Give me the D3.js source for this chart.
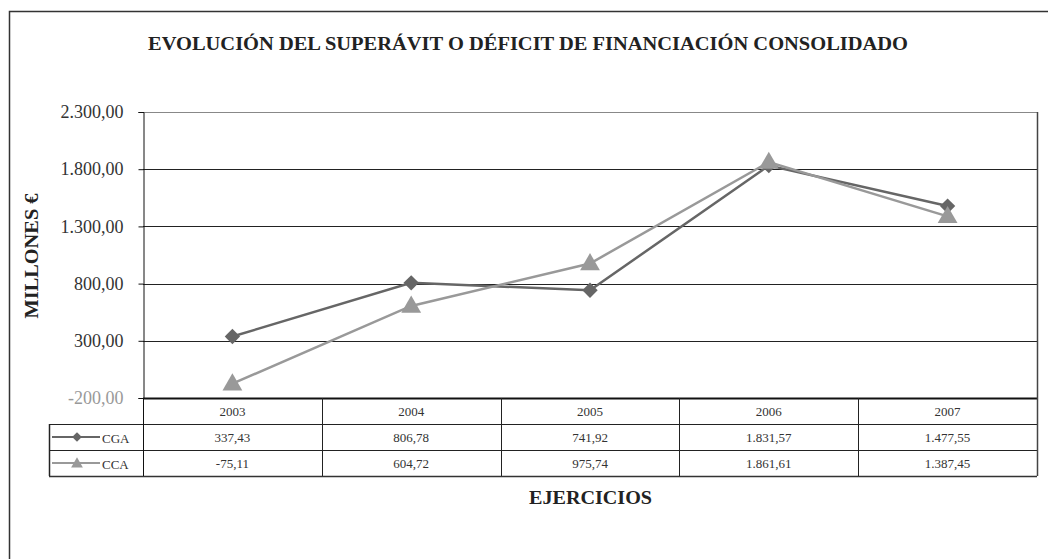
<!DOCTYPE html>
<html lang="es">
<head>
<meta charset="utf-8">
<title>Superávit o déficit de financiación</title>
<script src="https://cdn.jsdelivr.net/npm/d3@7"></script>
<style>
  body { margin: 0; background: #fff; }
  svg text { font-family: "Liberation Serif", "DejaVu Serif", serif; }
  .title, .ylab, .xlab { font-weight: bold; fill: #222; }
  .cell text { font-size: 13px; fill: #333; }
</style>
</head>
<body>
<script>
var years = ["2003", "2004", "2005", "2006", "2007"];
var seriesNames = ["CGA", "CCA"];
var cga = [337.43, 806.78, 741.92, 1831.57, 1477.55];
var cca = [-75.11, 604.72, 975.74, 1861.61, 1387.45];
var yTicks = [-200, 300, 800, 1300, 1800, 2300];

var colors = {CGA: "#666666", CCA: "#999999"};
var values = {CGA: cga, CCA: cca};

var W = 1048, H = 559;
var plot = {left: 143, right: 1037, top: 112, bottom: 398};
var rowH = 26, legendLeft = 49;

var es = d3.formatLocale({decimal: ",", thousands: ".", grouping: [3], currency: ["", " €"], minus: "-"});
var fmt = es.format(",.2f");

var svg = d3.select("body").append("svg")
  .attr("width", W).attr("height", H);

// outer frame (open at right/bottom edges)
svg.append("path")
  .attr("d", "M9.5," + H + "V11.5H" + W)
  .attr("fill", "none").attr("stroke", "#333").attr("stroke-width", 1.5);

svg.append("text").attr("class", "title")
  .attr("x", 528).attr("y", 50)
  .attr("text-anchor", "middle").attr("font-size", 18)
  .attr("textLength", 760).attr("lengthAdjust", "spacingAndGlyphs")
  .text("EVOLUCIÓN DEL SUPERÁVIT O DÉFICIT DE FINANCIACIÓN CONSOLIDADO");

var x = d3.scaleBand().domain(years).range([plot.left, plot.right]);
var y = d3.scaleLinear().domain([-200, 2300]).range([plot.bottom, plot.top]);

// gridlines
svg.append("g").selectAll("line")
  .data(yTicks.slice(1))
  .join("line")
  .attr("x1", plot.left).attr("x2", plot.right)
  .attr("y1", function(d) { return Math.round(y(d)) + 0.5; })
  .attr("y2", function(d) { return Math.round(y(d)) + 0.5; })
  .attr("stroke", function(d) { return d == 2300 ? "#888" : "#222"; })
  .attr("stroke-width", 1);

// y axis
var yAxis = svg.append("g")
  .attr("transform", "translate(" + (plot.left + 0.5) + ",0)")
  .call(d3.axisLeft(y).tickValues(yTicks).tickFormat(fmt).tickSize(5).tickPadding(15));
yAxis.select(".domain").attr("stroke", "#111");
yAxis.selectAll(".tick line").attr("stroke", "#111");
yAxis.selectAll(".tick text")
  .attr("font-size", 18)
  .attr("fill", function(d) { return d < 0 ? "#999" : "#333"; })
  .style("font-family", "'Liberation Serif', serif");

svg.append("text").attr("class", "ylab")
  .attr("transform", "translate(38," + 256 + ") rotate(-90)")
  .attr("text-anchor", "middle").attr("font-size", 18)
  .attr("textLength", 125).attr("lengthAdjust", "spacingAndGlyphs")
  .text("MILLONES €");

// data table
var tableBottom = plot.bottom + rowH * 3;
var tbl = svg.append("g").attr("class", "cell");

// horizontal table lines
tbl.append("line")
  .attr("x1", plot.left).attr("x2", plot.right)
  .attr("y1", plot.bottom + 0.5).attr("y2", plot.bottom + 0.5)
  .attr("stroke", "#111").attr("stroke-width", 2);
[1, 2, 3].forEach(function(r) {
  tbl.append("line")
    .attr("x1", legendLeft).attr("x2", plot.right)
    .attr("y1", plot.bottom + rowH * r + 0.5).attr("y2", plot.bottom + rowH * r + 0.5)
    .attr("stroke", r == 3 ? "#333" : "#222").attr("stroke-width", r == 3 ? 1.5 : 1);
});
// vertical table lines
tbl.selectAll(".vline")
  .data(years.slice(1))
  .join("line")
  .attr("x1", function(d) { return Math.round(x(d)) + 0.5; })
  .attr("x2", function(d) { return Math.round(x(d)) + 0.5; })
  .attr("y1", plot.bottom).attr("y2", tableBottom)
  .attr("stroke", "#222");
tbl.append("line")
  .attr("x1", plot.left + 0.5).attr("x2", plot.left + 0.5)
  .attr("y1", plot.bottom).attr("y2", tableBottom).attr("stroke", "#111");
tbl.append("line")
  .attr("x1", plot.right + 0.5).attr("x2", plot.right + 0.5)
  .attr("y1", plot.top).attr("y2", tableBottom).attr("stroke", "#444").attr("stroke-width", 1.5);
tbl.append("line")
  .attr("x1", legendLeft + 0.5).attr("x2", legendLeft + 0.5)
  .attr("y1", plot.bottom + rowH).attr("y2", tableBottom).attr("stroke", "#222").attr("stroke-width", 1.5);

// header years
tbl.selectAll(".yr")
  .data(years)
  .join("text")
  .attr("x", function(d) { return x(d) + x.bandwidth() / 2; })
  .attr("y", plot.bottom + rowH / 2 + 4.5)
  .attr("text-anchor", "middle")
  .text(function(d) { return d; });

var diamond = d3.symbol().type(d3.symbolDiamond2);
var triangle = d3.symbol().type(d3.symbolTriangle);
function markerPath(name, size) {
  return name == "CGA" ? diamond.size(size)() : triangle.size(size)();
}

seriesNames.forEach(function(name, i) {
  var rowY = plot.bottom + rowH * (i + 1);
  var vals = values[name];
  tbl.selectAll(".v" + name)
    .data(vals)
    .join("text")
    .attr("x", function(d, j) { return x(years[j]) + x.bandwidth() / 2; })
    .attr("y", rowY + rowH / 2 + 4.5)
    .attr("text-anchor", "middle")
    .text(function(d) { return fmt(d); });

  // legend key
  tbl.append("line")
    .attr("x1", legendLeft + 3).attr("x2", legendLeft + 51)
    .attr("y1", rowY + rowH / 2).attr("y2", rowY + rowH / 2)
    .attr("stroke", colors[name]).attr("stroke-width", 2);
  tbl.append("path")
    .attr("transform", "translate(" + (legendLeft + 28) + "," + (rowY + rowH / 2 + (name == "CCA" ? 1 : 0)) + ")")
    .attr("d", markerPath(name, 60))
    .attr("fill", colors[name]);
  tbl.append("text")
    .attr("x", legendLeft + 53).attr("y", rowY + rowH / 2 + 5.5)
    .attr("font-size", 16)
    .text(name);
});

// series lines and markers
var line = d3.line()
  .x(function(d, j) { return x(years[j]) + x.bandwidth() / 2; })
  .y(function(d) { return y(d); });

["CGA", "CCA"].forEach(function(name) {
  var g = svg.append("g");
  g.append("path")
    .datum(values[name])
    .attr("d", line)
    .attr("fill", "none")
    .attr("stroke", colors[name])
    .attr("stroke-width", 2.5);
  g.selectAll("path.m")
    .data(values[name])
    .join("path")
    .attr("class", "m")
    .attr("transform", function(d, j) {
      return "translate(" + (x(years[j]) + x.bandwidth() / 2) + "," + (y(d) + (name == "CCA" ? 1 : 0)) + ")";
    })
    .attr("d", markerPath(name, name == "CGA" ? 150 : 170))
    .attr("fill", colors[name]);
});

svg.append("text").attr("class", "xlab")
  .attr("x", (plot.left + plot.right) / 2 + 0.5).attr("y", 504)
  .attr("text-anchor", "middle").attr("font-size", 18)
  .attr("textLength", 123).attr("lengthAdjust", "spacingAndGlyphs")
  .text("EJERCICIOS");
</script>
</body>
</html>
